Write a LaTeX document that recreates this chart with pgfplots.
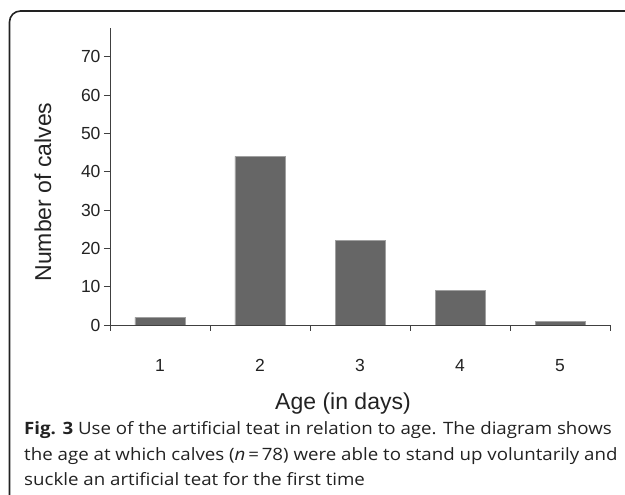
\documentclass[border=0pt]{standalone}
\usepackage{pgfplots}
\pgfplotsset{compat=1.18}
\usepackage{fontspec}
\setmainfont{Liberation Sans}
\newfontfamily\capfont[FakeStretch=1.10]{Open Sans}
\definecolor{barfill}{HTML}{666666}
\definecolor{baredge}{HTML}{A0A0A0}
\definecolor{axcol}{HTML}{404040}
\definecolor{txt}{HTML}{222222}
\begin{document}
\begin{tikzpicture}[x=1pt,y=1pt]
\useasboundingbox (0,0) rectangle (625,495);
\draw[line width=1.6pt, color=txt, rounded corners=11pt] (9.5,-10) -- (9.5,484) -- (640,484);
\begin{axis}[
  at={(110pt,170pt)}, anchor=south west,
  width=500pt, height=297pt, scale only axis,
  xmin=0.5, xmax=5.5, ymin=0, ymax=77.5,
  axis lines*=left,
  axis line style={color=axcol, line width=0.8pt},
  ybar, bar width=50pt,
  xtick={1,2,3,4,5},
  major x tick style={draw=none},
  minor xtick={0.5,1.5,2.5,3.5,4.5,5.5},
  ytick={0,10,...,70},
  tick align=outside,
  major tick length=6pt, minor tick length=6pt,
  tick style={color=axcol, line width=0.8pt},
  /pgf/number format/assume math mode=true,
  tick label style={font=\fontsize{17.5}{17.5}\selectfont, text=txt},
  xticklabel style={yshift=-25pt},
  xlabel={Age (in days)},
  ylabel={Number of calves},
  label style={font=\fontsize{23}{23}\selectfont, text=txt},
  xlabel style={at={(axis description cs:0.466,-0.263)}, anchor=center},
  ylabel style={at={(axis description cs:-0.134,0.448)}, anchor=center, rotate=0},
]
\addplot[fill=barfill, draw=baredge, line width=0.6pt] coordinates {(1,2) (2,44) (3,22) (4,9) (5,1)};
\end{axis}
\node[anchor=base west, inner sep=0, text=txt, font=\capfont\fontsize{17}{17}\selectfont] at (24,60) {\textbf{Fig. 3} Use of the artificial teat in relation to age. The diagram shows};
\node[anchor=base west, inner sep=0, text=txt, font=\capfont\fontsize{17}{17}\selectfont] at (24,34.5) {the age at which calves (\textit{n}\,=\,78) were able to stand up voluntarily and};
\node[anchor=base west, inner sep=0, text=txt, font=\capfont\fontsize{17}{17}\selectfont] at (24,9) {suckle an artificial teat for the first time};
\end{tikzpicture}
\end{document}
